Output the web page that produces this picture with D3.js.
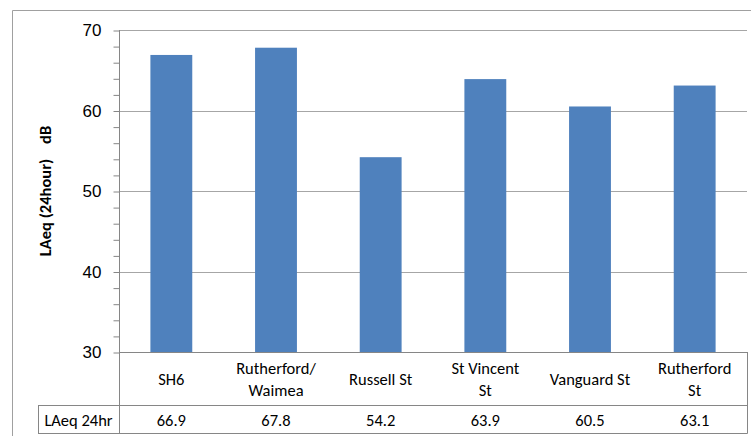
<!DOCTYPE html>
<html><head><meta charset="utf-8">
<script src="https://cdn.jsdelivr.net/npm/d3@7"></script>
<style>
body{margin:0;background:#fff;}
svg{display:block;font-family:Carlito, Calibri, "Liberation Sans Narrow", Lato, "Open Sans", sans-serif;}
</style></head>
<body><svg id="c" width="751" height="436"></svg>
<script>
const categories = [["SH6"],["Rutherford/","Waimea"],["Russell St"],["St Vincent","St"],["Vanguard St"],["Rutherford","St"]];
const values = [66.9, 67.8, 54.2, 63.9, 60.5, 63.1];
const valueLabels = ["66.9","67.8","54.2","63.9","60.5","63.1"];
const yTicks = [30, 40, 50, 60, 70];
const yMinorTicks = [32,34,36,38,42,44,46,48,52,54,56,58,62,64,66,68];
const seriesName = "LAeq 24hr";
const yTitle = "LAeq (24hour)\u00a0\u00a0\u00a0\u00a0dB";

const svg = d3.select("#c");
const L = 119, R = 747, T = 30, B = 352;
const row1 = 405, row2 = 433, tableLeft = 38;
const grid = "#a6a6a6", axisC = "#868686";

const x = d3.scaleBand().domain(d3.range(categories.length)).range([L, R]).padding(0);
const y = d3.scaleLinear().domain([30, 70]).range([B, T]);
const barW = x.bandwidth() * 0.4;

// outer frame
svg.append("path").attr("d", `M12.5,436 V10.5 H751`).attr("fill","none").attr("stroke","#a0a0a0");

// gridlines
svg.append("g").selectAll("line").data(yTicks.filter(d=>d>30)).join("line")
  .attr("x1", L).attr("x2", R).attr("y1", d=>Math.round(y(d))+0.5).attr("y2", d=>Math.round(y(d))+0.5)
  .attr("stroke", grid);

// bars
svg.append("g").selectAll("rect").data(values).join("rect")
  .attr("x", (d,i)=>x(i)+x.bandwidth()/2-barW/2)
  .attr("width", barW)
  .attr("y", d=>y(d)).attr("height", d=>B-y(d))
  .attr("fill", "#4f81bd");

// y axis
const yAxis = d3.axisLeft(y).tickValues(yTicks).tickSize(6).tickFormat(d3.format("d")).tickPadding(12);
const gy = svg.append("g").attr("transform", `translate(${L+0.5},0.5)`).call(yAxis);
gy.select(".domain").remove();
gy.selectAll(".tick line").attr("stroke", axisC);
gy.selectAll(".tick text").attr("font-size", 17).attr("fill", "#000").attr("font-family", null);
const minor = d3.axisLeft(y).tickValues(yMinorTicks).tickSize(6).tickFormat("");
const gm = svg.append("g").attr("transform", `translate(${L+0.5},0.5)`).call(minor);
gm.select(".domain").remove();
gm.selectAll(".tick line").attr("stroke", axisC);

// axis line extends through table
svg.append("line").attr("x1", L+0.5).attr("x2", L+0.5).attr("y1", T).attr("y2", row2+0.5).attr("stroke", axisC);

// table lines
const tl = svg.append("g").attr("stroke", axisC).attr("fill","none");
tl.append("line").attr("x1", L).attr("x2", R+0.5).attr("y1", B+0.5).attr("y2", B+0.5);
tl.append("line").attr("x1", tableLeft).attr("x2", R+0.5).attr("y1", row1+0.5).attr("y2", row1+0.5);
tl.append("line").attr("x1", tableLeft).attr("x2", R+0.5).attr("y1", row2+0.5).attr("y2", row2+0.5);
tl.append("line").attr("x1", tableLeft+0.5).attr("x2", tableLeft+0.5).attr("y1", row1).attr("y2", row2+0.5);
tl.append("line").attr("x1", R+0.5).attr("x2", R+0.5).attr("y1", B).attr("y2", row2+0.5);

// category labels
const cat = svg.append("g").attr("font-size", 16.5).attr("text-anchor","middle").attr("fill","#000");
categories.forEach((lines, i) => {
  const cx = x(i) + x.bandwidth()/2;
  const mid = (B + row1)/2 + 1;
  const lh = 22;
  lines.forEach((t, j) => {
    cat.append("text").attr("x", cx).attr("y", mid + (j - (lines.length-1)/2)*lh)
      .attr("dy", "0.35em").text(t);
  });
});

// values row
const vr = svg.append("g").attr("font-size", 16.5).attr("text-anchor","middle").attr("fill","#000");
valueLabels.forEach((t,i)=>{
  vr.append("text").attr("x", x(i)+x.bandwidth()/2).attr("y", (row1+row2)/2+1).attr("dy","0.35em").text(t);
});
vr.append("text").attr("x", (tableLeft+L)/2).attr("y", (row1+row2)/2+1).attr("dy","0.35em").text(seriesName);

// y title
svg.append("text").attr("transform", `translate(45,${(T+B)/2}) rotate(-90)`)
  .attr("text-anchor","middle").attr("font-size", 16.5).attr("font-weight","bold")
  .attr("dy","0.35em").text(yTitle);
</script></body></html>
